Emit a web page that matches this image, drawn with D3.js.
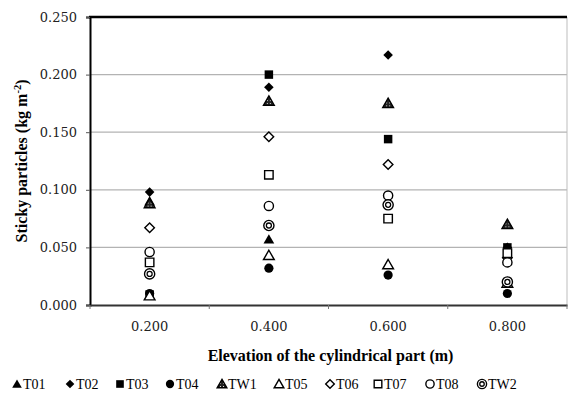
<!DOCTYPE html>
<html><head><meta charset="utf-8">
<script src="https://cdn.jsdelivr.net/npm/d3@7"></script>
<style>body{margin:0;background:#fff}svg{display:block}</style>
</head><body>
<svg id="c" width="568" height="402"></svg>
<script>
const categories = ["0.200","0.400","0.600","0.800"];
const yTicks = [0, 0.05, 0.10, 0.15, 0.20, 0.25];
const seriesNames = ["T01","T02","T03","T04","TW1","T05","T06","T07","T08","TW2"];
const T01 = [0.090, 0.057, 0.175, 0.070];
const T02 = [0.098, 0.189, 0.217, 0.050];
const T03 = [0.009, 0.200, 0.144, 0.050];
const T04 = [0.010, 0.032, 0.026, 0.010];
const TW1 = [0.088, 0.177, 0.175, 0.070];
const T05 = [0.008, 0.043, 0.035, 0.019];
const T06 = [0.067, 0.146, 0.122, 0.041];
const T07 = [0.037, 0.113, 0.075, 0.045];
const T08 = [0.046, 0.086, 0.095, 0.037];
const TW2 = [0.027, 0.069, 0.087, 0.020];
const seriesValues = [T01,T02,T03,T04,TW1,T05,T06,T07,T08,TW2];
const shapes = ["triF","diaF","sqF","cirF","triP","triO","diaO","sqO","cirO","dbl"];

const svg = d3.select("#c");
const L=90, R=567, T=17, B=305;
const x = d3.scaleBand().domain(categories).range([L,R]).padding(0);
const y = d3.scaleLinear().domain([0,0.25]).range([B,T]);

const defs = svg.append("defs");
const pat = defs.append("pattern").attr("id","dots").attr("width",3).attr("height",3).attr("patternUnits","userSpaceOnUse");
pat.append("rect").attr("width",3).attr("height",3).attr("fill","#222");
pat.append("rect").attr("x",1).attr("y",1).attr("width",1).attr("height",1).attr("fill","#ddd");

// gridlines
svg.append("g").selectAll("line").data(yTicks.filter(d=>d>0 && d<0.25)).join("line")
  .attr("x1",L).attr("x2",R).attr("y1",d=>y(d)).attr("y2",d=>y(d))
  .attr("stroke","#b3b3b3").attr("stroke-width",1.2);
// right border
svg.append("line").attr("x1",R).attr("x2",R).attr("y1",T).attr("y2",B).attr("stroke","#bdbdbd").attr("stroke-width",1);
// top border
svg.append("line").attr("x1",L-1).attr("x2",R).attr("y1",T).attr("y2",T).attr("stroke","#000").attr("stroke-width",2.5);

// y axis
const yAxis = svg.append("g").attr("transform",`translate(${L},0)`)
  .call(d3.axisLeft(y).tickValues(yTicks).tickFormat(d3.format(".3f")).tickSize(4).tickPadding(9));
yAxis.select(".domain").attr("stroke","#000").attr("stroke-width",2);
yAxis.selectAll(".tick line").attr("stroke","#555");
yAxis.selectAll("text").attr("font-family","DejaVu Serif").attr("font-size",13).attr("fill","#222");

// x axis
const xAxis = svg.append("g").attr("transform",`translate(0,${B})`)
  .call(d3.axisBottom(x).tickSize(0).tickPadding(17));
xAxis.select(".domain").attr("stroke","#333").attr("stroke-width",2);
xAxis.selectAll("text").attr("font-family","DejaVu Serif").attr("font-size",13).attr("fill","#222");
// boundary ticks
const bounds = categories.map(c=>x(c)).concat([R]);
svg.append("g").selectAll("line").data(bounds).join("line")
  .attr("x1",d=>d).attr("x2",d=>d).attr("y1",B).attr("y2",B+4).attr("stroke","#777");

// titles
svg.append("text").attr("x",(L+R)/2+2).attr("y",361).attr("text-anchor","middle")
  .attr("font-family","Liberation Serif").attr("font-weight","bold").attr("font-size",16)
  .text("Elevation of the cylindrical part (m)");
const yt = svg.append("text").attr("transform","translate(27,161) rotate(-90)").attr("text-anchor","middle")
  .attr("font-family","Liberation Serif").attr("font-weight","bold").attr("font-size",16);
yt.append("tspan").text("Sticky particles (kg m");
yt.append("tspan").attr("dy",-6).attr("font-size",10.5).text("-2");
yt.append("tspan").attr("dy",6).text(")");

function drawMarker(g, shape, s){
  const k = s;
  if(shape.startsWith("tri")){
    const p = d3.symbol(d3.symbolTriangle, 50*k*k)();
    const e = g.append("path").attr("d",p).attr("transform","translate(0,1)");
    if(shape==="triF") e.attr("fill","#000");
    else if(shape==="triP") e.attr("fill","url(#dots)").attr("stroke","#000").attr("stroke-width",1.4);
    else e.attr("fill","#fff").attr("stroke","#000").attr("stroke-width",1.4);
  } else if(shape.startsWith("dia")){
    const p = d3.symbol(d3.symbolSquare, 46*k*k)();
    const e = g.append("path").attr("d",p).attr("transform","rotate(45)");
    if(shape==="diaF") e.attr("fill","#000");
    else e.attr("fill","#fff").attr("stroke","#000").attr("stroke-width",1.4);
  } else if(shape.startsWith("sq")){
    const p = d3.symbol(d3.symbolSquare, 72*k*k)();
    const e = g.append("path").attr("d",p);
    if(shape==="sqF") e.attr("fill","#000");
    else e.attr("fill","#fff").attr("stroke","#000").attr("stroke-width",1.4);
  } else if(shape.startsWith("cir")){
    const e = g.append("circle").attr("r",4.6*k);
    if(shape==="cirF") e.attr("fill","#000");
    else e.attr("fill","#fff").attr("stroke","#000").attr("stroke-width",1.4);
  } else {
    g.append("circle").attr("r",5.1*k).attr("fill","#fff").attr("stroke","#000").attr("stroke-width",1.4);
    g.append("circle").attr("r",2.5*k).attr("fill","#fff").attr("stroke","#000").attr("stroke-width",1.3);
  }
}

// points
const plot = svg.append("g");
seriesNames.forEach((name,i)=>{
  seriesValues[i].forEach((v,j)=>{
    const g = plot.append("g").attr("transform",`translate(${x(categories[j])+x.bandwidth()/2},${y(v)})`);
    drawMarker(g, shapes[i], 1);
  });
});

// legend
const legX = [17,70,120,170,222,279,330,378,430,482];
const leg = svg.append("g");
seriesNames.forEach((name,i)=>{
  const g = leg.append("g").attr("transform",`translate(${legX[i]},384)`);
  drawMarker(g.append("g"), shapes[i], 0.9);
  g.append("text").attr("x",6).attr("y",5).attr("font-family","Liberation Serif").attr("font-size",14)
    .attr("fill","#000").text(name);
});
</script>
</body></html>
